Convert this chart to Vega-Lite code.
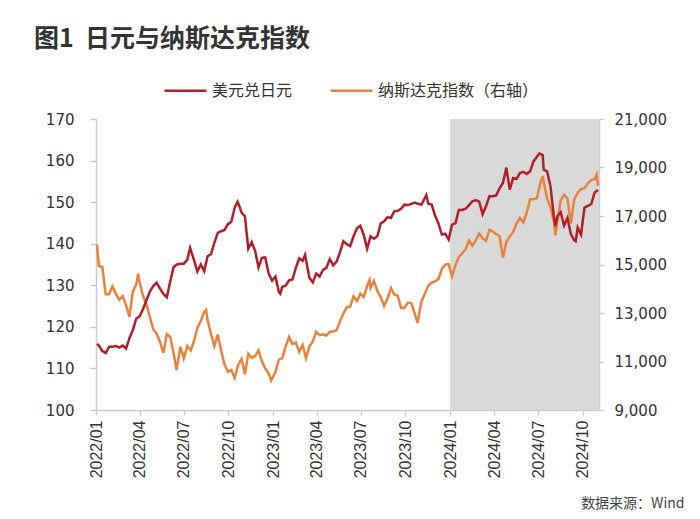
{
  "$schema": "https://vega.github.io/schema/vega-lite/v6.json",
  "width": 503,
  "height": 291,
  "autosize": {"type": "none"},
  "padding": {"left": 96, "top": 119, "right": 101, "bottom": 109},
  "background": "white",
  "title": {
    "text": "图1\u00a0\u00a0日元与纳斯达克指数",
    "anchor": "start",
    "frame": "group",
    "dx": -62,
    "offset": 0,
    "dy": 4,
    "baseline": "alphabetic",
    "font": "Noto Sans CJK SC",
    "fontSize": 25,
    "fontWeight": "bold",
    "color": "#333333"
  },
  "config": {
    "view": {"stroke": null},
    "axis": {"grid": false, "domainColor": "#cccccc", "domainWidth": 1.5, "tickColor": "#cccccc", "tickWidth": 1.5, "labelColor": "#333333"}
  },
  "datasets": {
    "shade": [{"s": "2024-01-01", "e": "2024-11-03"}],
    "usdjpy": [
      {"d": "2022-01-03", "v": 115.9}, {"d": "2022-01-07", "v": 115.5}, {"d": "2022-01-14", "v": 114.2}, {"d": "2022-01-21", "v": 113.7}, {"d": "2022-01-28", "v": 115.2},
      {"d": "2022-02-04", "v": 115.2}, {"d": "2022-02-11", "v": 115.4}, {"d": "2022-02-18", "v": 115.0}, {"d": "2022-02-25", "v": 115.5},
      {"d": "2022-03-04", "v": 114.8}, {"d": "2022-03-11", "v": 117.3}, {"d": "2022-03-18", "v": 119.2}, {"d": "2022-03-25", "v": 122.0},
      {"d": "2022-04-01", "v": 122.5}, {"d": "2022-04-08", "v": 124.3}, {"d": "2022-04-15", "v": 126.4}, {"d": "2022-04-22", "v": 128.5}, {"d": "2022-04-29", "v": 129.8},
      {"d": "2022-05-06", "v": 130.6}, {"d": "2022-05-13", "v": 129.2}, {"d": "2022-05-20", "v": 127.9}, {"d": "2022-05-27", "v": 127.1},
      {"d": "2022-06-03", "v": 130.9}, {"d": "2022-06-10", "v": 134.4}, {"d": "2022-06-17", "v": 135.0}, {"d": "2022-06-24", "v": 135.2},
      {"d": "2022-07-01", "v": 135.2}, {"d": "2022-07-08", "v": 136.1}, {"d": "2022-07-14", "v": 139.0}, {"d": "2022-07-22", "v": 136.1}, {"d": "2022-07-29", "v": 133.3},
      {"d": "2022-08-05", "v": 135.0}, {"d": "2022-08-12", "v": 133.4}, {"d": "2022-08-19", "v": 137.0}, {"d": "2022-08-26", "v": 137.5},
      {"d": "2022-09-02", "v": 140.2}, {"d": "2022-09-09", "v": 142.6}, {"d": "2022-09-16", "v": 143.0}, {"d": "2022-09-23", "v": 143.3}, {"d": "2022-09-30", "v": 144.7},
      {"d": "2022-10-07", "v": 145.3}, {"d": "2022-10-14", "v": 148.7}, {"d": "2022-10-20", "v": 150.1}, {"d": "2022-10-24", "v": 148.9}, {"d": "2022-10-28", "v": 147.5},
      {"d": "2022-11-04", "v": 146.6}, {"d": "2022-11-11", "v": 138.8}, {"d": "2022-11-18", "v": 140.4}, {"d": "2022-11-25", "v": 138.3},
      {"d": "2022-12-02", "v": 134.3}, {"d": "2022-12-09", "v": 136.6}, {"d": "2022-12-16", "v": 136.7}, {"d": "2022-12-23", "v": 132.8}, {"d": "2022-12-30", "v": 131.1},
      {"d": "2023-01-06", "v": 132.1}, {"d": "2023-01-13", "v": 128.4}, {"d": "2023-01-16", "v": 128.0}, {"d": "2023-01-20", "v": 129.6}, {"d": "2023-01-27", "v": 129.9},
      {"d": "2023-02-03", "v": 131.2}, {"d": "2023-02-10", "v": 131.4}, {"d": "2023-02-17", "v": 134.2}, {"d": "2023-02-24", "v": 136.5},
      {"d": "2023-03-03", "v": 135.9}, {"d": "2023-03-08", "v": 137.3}, {"d": "2023-03-17", "v": 131.8}, {"d": "2023-03-24", "v": 130.7}, {"d": "2023-03-31", "v": 132.8},
      {"d": "2023-04-07", "v": 132.1}, {"d": "2023-04-14", "v": 133.7}, {"d": "2023-04-21", "v": 134.2}, {"d": "2023-04-28", "v": 136.3},
      {"d": "2023-05-05", "v": 134.8}, {"d": "2023-05-12", "v": 135.7}, {"d": "2023-05-19", "v": 137.9}, {"d": "2023-05-26", "v": 140.6},
      {"d": "2023-06-02", "v": 139.9}, {"d": "2023-06-09", "v": 139.4}, {"d": "2023-06-16", "v": 141.8}, {"d": "2023-06-23", "v": 143.7}, {"d": "2023-06-30", "v": 144.3},
      {"d": "2023-07-07", "v": 142.1}, {"d": "2023-07-14", "v": 138.8}, {"d": "2023-07-21", "v": 141.8}, {"d": "2023-07-28", "v": 141.2},
      {"d": "2023-08-04", "v": 141.8}, {"d": "2023-08-11", "v": 144.9}, {"d": "2023-08-18", "v": 145.4}, {"d": "2023-08-25", "v": 146.4},
      {"d": "2023-09-01", "v": 146.2}, {"d": "2023-09-08", "v": 147.8}, {"d": "2023-09-15", "v": 147.9}, {"d": "2023-09-22", "v": 148.4}, {"d": "2023-09-29", "v": 149.4},
      {"d": "2023-10-06", "v": 149.3}, {"d": "2023-10-13", "v": 149.6}, {"d": "2023-10-20", "v": 149.9}, {"d": "2023-10-27", "v": 149.6},
      {"d": "2023-11-03", "v": 149.4}, {"d": "2023-11-13", "v": 151.7}, {"d": "2023-11-17", "v": 149.6}, {"d": "2023-11-24", "v": 149.4},
      {"d": "2023-12-01", "v": 146.8}, {"d": "2023-12-08", "v": 144.9}, {"d": "2023-12-15", "v": 142.2}, {"d": "2023-12-22", "v": 142.4}, {"d": "2023-12-29", "v": 141.0},
      {"d": "2024-01-05", "v": 144.6}, {"d": "2024-01-12", "v": 144.9}, {"d": "2024-01-19", "v": 148.1}, {"d": "2024-01-26", "v": 148.1},
      {"d": "2024-02-02", "v": 148.4}, {"d": "2024-02-09", "v": 149.3}, {"d": "2024-02-16", "v": 150.2}, {"d": "2024-02-23", "v": 150.5},
      {"d": "2024-03-01", "v": 150.1}, {"d": "2024-03-08", "v": 147.1}, {"d": "2024-03-15", "v": 149.0}, {"d": "2024-03-22", "v": 151.4}, {"d": "2024-03-29", "v": 151.4},
      {"d": "2024-04-05", "v": 151.6}, {"d": "2024-04-12", "v": 153.3}, {"d": "2024-04-19", "v": 154.6}, {"d": "2024-04-26", "v": 158.3},
      {"d": "2024-05-03", "v": 153.0}, {"d": "2024-05-10", "v": 155.8}, {"d": "2024-05-17", "v": 155.6}, {"d": "2024-05-24", "v": 157.0}, {"d": "2024-05-31", "v": 157.3},
      {"d": "2024-06-07", "v": 156.8}, {"d": "2024-06-14", "v": 157.4}, {"d": "2024-06-21", "v": 159.8}, {"d": "2024-06-28", "v": 160.9},
      {"d": "2024-07-03", "v": 161.7}, {"d": "2024-07-10", "v": 161.3}, {"d": "2024-07-12", "v": 157.8}, {"d": "2024-07-19", "v": 157.4}, {"d": "2024-07-26", "v": 153.8},
      {"d": "2024-08-02", "v": 146.5}, {"d": "2024-08-05", "v": 144.2}, {"d": "2024-08-09", "v": 146.6}, {"d": "2024-08-16", "v": 147.6}, {"d": "2024-08-23", "v": 144.4}, {"d": "2024-08-30", "v": 146.2},
      {"d": "2024-09-06", "v": 142.3}, {"d": "2024-09-13", "v": 140.8}, {"d": "2024-09-16", "v": 140.6}, {"d": "2024-09-20", "v": 143.9}, {"d": "2024-09-27", "v": 142.2},
      {"d": "2024-10-04", "v": 148.7}, {"d": "2024-10-11", "v": 149.1}, {"d": "2024-10-18", "v": 149.5}, {"d": "2024-10-25", "v": 152.3}, {"d": "2024-11-01", "v": 152.9}
    ],
    "nasdaq": [
      {"d": "2022-01-03", "v": 15833}, {"d": "2022-01-07", "v": 14936}, {"d": "2022-01-14", "v": 14894}, {"d": "2022-01-21", "v": 13769}, {"d": "2022-01-28", "v": 13771},
      {"d": "2022-02-04", "v": 14098}, {"d": "2022-02-11", "v": 13791}, {"d": "2022-02-18", "v": 13548}, {"d": "2022-02-25", "v": 13694},
      {"d": "2022-03-04", "v": 13313}, {"d": "2022-03-11", "v": 12844}, {"d": "2022-03-18", "v": 13894}, {"d": "2022-03-25", "v": 14169}, {"d": "2022-03-29", "v": 14620},
      {"d": "2022-04-01", "v": 14262}, {"d": "2022-04-08", "v": 13711}, {"d": "2022-04-15", "v": 13351}, {"d": "2022-04-22", "v": 12839}, {"d": "2022-04-29", "v": 12335},
      {"d": "2022-05-06", "v": 12145}, {"d": "2022-05-13", "v": 11805}, {"d": "2022-05-20", "v": 11355}, {"d": "2022-05-27", "v": 12131},
      {"d": "2022-06-03", "v": 12013}, {"d": "2022-06-10", "v": 11340}, {"d": "2022-06-16", "v": 10646}, {"d": "2022-06-24", "v": 11608},
      {"d": "2022-07-01", "v": 11128}, {"d": "2022-07-08", "v": 11635}, {"d": "2022-07-15", "v": 11452}, {"d": "2022-07-22", "v": 11834}, {"d": "2022-07-29", "v": 12391},
      {"d": "2022-08-05", "v": 12657}, {"d": "2022-08-12", "v": 13047}, {"d": "2022-08-16", "v": 13128}, {"d": "2022-08-19", "v": 12706}, {"d": "2022-08-26", "v": 12142},
      {"d": "2022-09-02", "v": 11631}, {"d": "2022-09-09", "v": 12112}, {"d": "2022-09-16", "v": 11448}, {"d": "2022-09-23", "v": 10868}, {"d": "2022-09-30", "v": 10576},
      {"d": "2022-10-07", "v": 10652}, {"d": "2022-10-14", "v": 10321}, {"d": "2022-10-21", "v": 10860}, {"d": "2022-10-28", "v": 11102},
      {"d": "2022-11-04", "v": 10475}, {"d": "2022-11-11", "v": 11323}, {"d": "2022-11-18", "v": 11146}, {"d": "2022-11-25", "v": 11226},
      {"d": "2022-12-02", "v": 11461}, {"d": "2022-12-09", "v": 11005}, {"d": "2022-12-16", "v": 10705}, {"d": "2022-12-23", "v": 10498}, {"d": "2022-12-28", "v": 10213},
      {"d": "2023-01-06", "v": 10569}, {"d": "2023-01-13", "v": 11079}, {"d": "2023-01-20", "v": 11140}, {"d": "2023-01-27", "v": 11622},
      {"d": "2023-02-03", "v": 12007}, {"d": "2023-02-10", "v": 11718}, {"d": "2023-02-17", "v": 11787}, {"d": "2023-02-24", "v": 11395},
      {"d": "2023-03-03", "v": 11689}, {"d": "2023-03-10", "v": 11139}, {"d": "2023-03-17", "v": 11631}, {"d": "2023-03-24", "v": 11824}, {"d": "2023-03-31", "v": 12222},
      {"d": "2023-04-07", "v": 12088}, {"d": "2023-04-14", "v": 12123}, {"d": "2023-04-21", "v": 12072}, {"d": "2023-04-28", "v": 12227},
      {"d": "2023-05-05", "v": 12235}, {"d": "2023-05-12", "v": 12284}, {"d": "2023-05-19", "v": 12658}, {"d": "2023-05-26", "v": 12975},
      {"d": "2023-06-02", "v": 13241}, {"d": "2023-06-09", "v": 13259}, {"d": "2023-06-16", "v": 13689}, {"d": "2023-06-23", "v": 13492}, {"d": "2023-06-30", "v": 13788},
      {"d": "2023-07-07", "v": 13661}, {"d": "2023-07-14", "v": 14113}, {"d": "2023-07-19", "v": 14358}, {"d": "2023-07-21", "v": 14032}, {"d": "2023-07-28", "v": 14317},
      {"d": "2023-08-04", "v": 13909}, {"d": "2023-08-11", "v": 13645}, {"d": "2023-08-18", "v": 13291}, {"d": "2023-08-25", "v": 13590},
      {"d": "2023-09-01", "v": 14031}, {"d": "2023-09-08", "v": 13762}, {"d": "2023-09-15", "v": 13708}, {"d": "2023-09-22", "v": 13212}, {"d": "2023-09-29", "v": 13219},
      {"d": "2023-10-06", "v": 13431}, {"d": "2023-10-13", "v": 13407}, {"d": "2023-10-20", "v": 12984}, {"d": "2023-10-26", "v": 12595},
      {"d": "2023-11-03", "v": 13478}, {"d": "2023-11-10", "v": 13798}, {"d": "2023-11-17", "v": 14125}, {"d": "2023-11-24", "v": 14251},
      {"d": "2023-12-01", "v": 14305}, {"d": "2023-12-08", "v": 14404}, {"d": "2023-12-15", "v": 14814}, {"d": "2023-12-22", "v": 14993}, {"d": "2023-12-29", "v": 15011},
      {"d": "2024-01-05", "v": 14524}, {"d": "2024-01-12", "v": 14973}, {"d": "2024-01-19", "v": 15311}, {"d": "2024-01-26", "v": 15455},
      {"d": "2024-02-02", "v": 15629}, {"d": "2024-02-09", "v": 15990}, {"d": "2024-02-16", "v": 15776}, {"d": "2024-02-23", "v": 15996},
      {"d": "2024-03-01", "v": 16275}, {"d": "2024-03-08", "v": 16085}, {"d": "2024-03-15", "v": 15973}, {"d": "2024-03-22", "v": 16429}, {"d": "2024-03-28", "v": 16379},
      {"d": "2024-04-05", "v": 16249}, {"d": "2024-04-12", "v": 16175}, {"d": "2024-04-19", "v": 15282}, {"d": "2024-04-26", "v": 15928},
      {"d": "2024-05-03", "v": 16156}, {"d": "2024-05-10", "v": 16341}, {"d": "2024-05-17", "v": 16686}, {"d": "2024-05-24", "v": 16921}, {"d": "2024-05-31", "v": 16735},
      {"d": "2024-06-07", "v": 17133}, {"d": "2024-06-14", "v": 17689}, {"d": "2024-06-21", "v": 17689}, {"d": "2024-06-28", "v": 17733},
      {"d": "2024-07-05", "v": 18353}, {"d": "2024-07-10", "v": 18647}, {"d": "2024-07-12", "v": 18398}, {"d": "2024-07-19", "v": 17727}, {"d": "2024-07-26", "v": 17358},
      {"d": "2024-08-02", "v": 16776}, {"d": "2024-08-05", "v": 16200}, {"d": "2024-08-09", "v": 16745}, {"d": "2024-08-16", "v": 17632}, {"d": "2024-08-23", "v": 17878}, {"d": "2024-08-30", "v": 17714},
      {"d": "2024-09-06", "v": 16691}, {"d": "2024-09-13", "v": 17684}, {"d": "2024-09-20", "v": 17948}, {"d": "2024-09-27", "v": 18120},
      {"d": "2024-10-04", "v": 18138}, {"d": "2024-10-11", "v": 18343}, {"d": "2024-10-18", "v": 18490}, {"d": "2024-10-25", "v": 18519}, {"d": "2024-10-29", "v": 18712}, {"d": "2024-11-01", "v": 18240}
    ]
  },
  "encoding": {
    "x": {
      "field": "d",
      "type": "temporal",
      "scale": {"type": "utc", "domain": [{"year": 2022, "month": 1, "date": 1, "utc": true}, {"year": 2024, "month": 11, "date": 3, "utc": true}]},
      "axis": {
        "title": "数据来源：Wind",
        "titleX": 588,
        "titleY": 93,
        "titleAlign": "right",
        "titleAnchor": null,
        "titleBaseline": "middle",
        "titleFont": "Noto Sans CJK SC",
        "titleFontSize": 14,
        "titleFontWeight": "normal",
        "titleColor": "#444444",
        "format": "%Y/%m",
        "labelAngle": 270,
        "labelFont": "Liberation Sans Narrow, Liberation Sans",
        "labelFontSize": 16,
        "labelPadding": 5,
        "tickSize": 5,
        "labelOverlap": false,
        "labelFlush": false,
        "values": [
          {"year": 2022, "month": 1, "date": 1, "utc": true}, {"year": 2022, "month": 4, "date": 1, "utc": true}, {"year": 2022, "month": 7, "date": 1, "utc": true}, {"year": 2022, "month": 10, "date": 1, "utc": true},
          {"year": 2023, "month": 1, "date": 1, "utc": true}, {"year": 2023, "month": 4, "date": 1, "utc": true}, {"year": 2023, "month": 7, "date": 1, "utc": true}, {"year": 2023, "month": 10, "date": 1, "utc": true},
          {"year": 2024, "month": 1, "date": 1, "utc": true}, {"year": 2024, "month": 4, "date": 1, "utc": true}, {"year": 2024, "month": 7, "date": 1, "utc": true}, {"year": 2024, "month": 10, "date": 1, "utc": true}
        ]
      }
    }
  },
  "layer": [
    {
      "data": {"name": "shade"},
      "mark": {"type": "rect", "color": "#d9d9d9"},
      "encoding": {
        "x": {"field": "s", "type": "temporal"},
        "x2": {"field": "e"}
      }
    },
    {
      "data": {"name": "nasdaq"},
      "mark": {"type": "line", "strokeWidth": 2.5, "interpolate": "linear"},
      "encoding": {
        "y": {
          "field": "v",
          "type": "quantitative",
          "scale": {"domain": [9000, 21000], "nice": false, "zero": false},
          "axis": {"orient": "right", "title": null, "values": [9000, 11000, 13000, 15000, 17000, 19000, 21000], "format": ",d", "labelFont": "DejaVu Sans", "labelFontSize": 15, "tickSize": 5, "labelPadding": 10}
        },
        "color": {"datum": "纳斯达克指数（右轴）", "type": "nominal"}
      }
    },
    {
      "data": {"name": "usdjpy"},
      "mark": {"type": "line", "strokeWidth": 2.5, "interpolate": "linear"},
      "encoding": {
        "y": {
          "field": "v",
          "type": "quantitative",
          "scale": {"domain": [100, 170], "nice": false, "zero": false},
          "axis": {"orient": "left", "title": null, "values": [100, 110, 120, 130, 140, 150, 160, 170], "labelFont": "DejaVu Sans", "labelFontSize": 15, "tickSize": 6, "labelPadding": 16}
        },
        "color": {
          "datum": "美元兑日元",
          "type": "nominal",
          "scale": {"domain": ["美元兑日元", "纳斯达克指数（右轴）"], "range": ["#B31F28", "#E8823C"]},
          "legend": {
            "orient": "none",
            "legendX": 67,
            "legendY": -51,
            "direction": "horizontal",
            "title": null,
            "symbolType": "stroke",
            "symbolSize": 1764,
            "symbolStrokeWidth": 2.5,
            "labelFont": "Noto Sans CJK SC",
            "labelFontSize": 16,
            "labelLimit": 400,
            "labelColor": "#333333",
            "labelOffset": 4,
            "columnPadding": 32,
            "padding": 0
          }
        }
      }
    }
  ],
  "resolve": {"scale": {"y": "independent"}}
}
